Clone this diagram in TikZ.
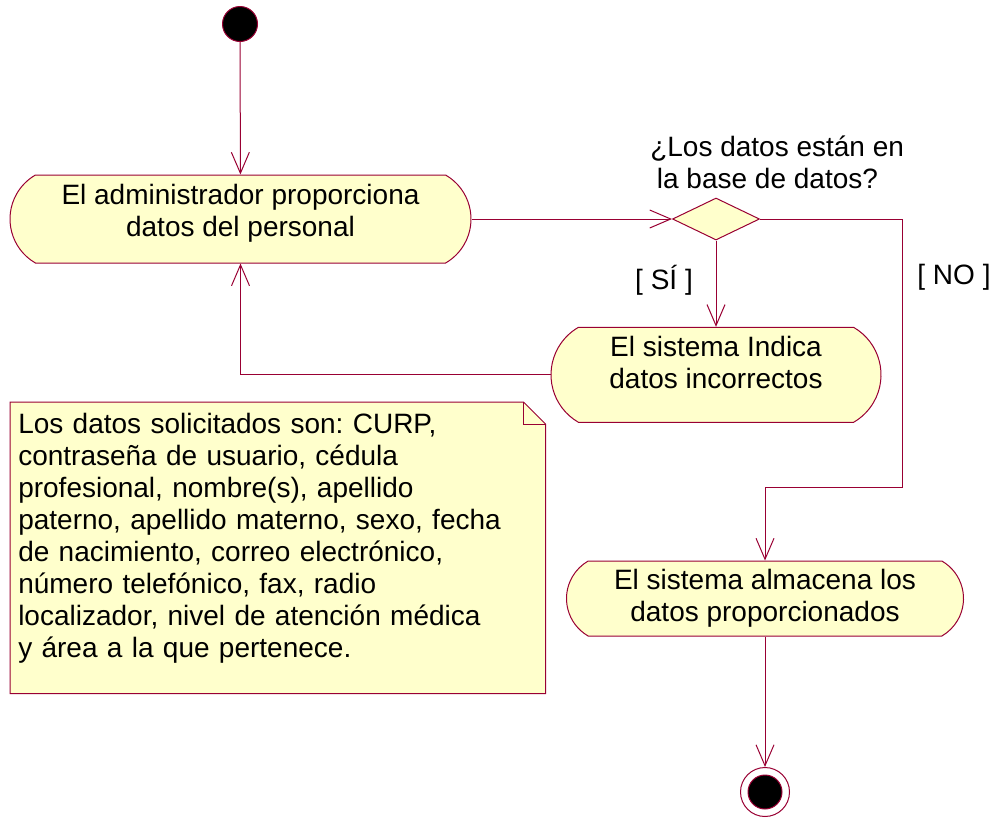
\documentclass[tikz,border=0pt]{standalone}
\usepackage{fontspec}
\setmainfont{Liberation Sans}
\usetikzlibrary{shapes.misc,shapes.geometric,arrows.meta,backgrounds}
\definecolor{rosered}{RGB}{153,0,51}
\definecolor{roseyellow}{RGB}{255,255,204}
\newcommand{\lowstrut}[1]{\rule[-#1]{0pt}{0pt}}
\frenchspacing
\begin{document}
\begin{tikzpicture}[x=0.75pt,y=-0.75pt,
  every node/.style={font=\fontsize{21pt}{24pt}\selectfont, text=black},
  outline/.style={draw=rosered, line width=0.75pt},
  activity/.style={outline, rounded rectangle, rounded rectangle arc length=120,
    fill=roseyellow, align=center, inner sep=0pt},
  decision/.style={outline, diamond, fill=roseyellow, inner sep=0pt,
    minimum width=65.25pt, minimum height=31.5pt},
  startst/.style={outline, circle, fill=black, inner sep=0pt, minimum size=26.25pt},
  endst/.style={outline, circle, fill=white, inner sep=0pt, minimum size=36.75pt,
    path picture={\filldraw[fill=black, draw=rosered, line width=0.75pt]
      (path picture bounding box.center) circle (12.75pt);}},
  notest/.style={anchor=north west, align=left, inner xsep=6pt, inner ysep=0pt,
    minimum width=401.25pt, minimum height=218.25pt, text width=389.25pt},
  guard/.style={inner sep=0pt},
  flow/.style={outline, -{Straight Barb[length=15.75pt,width=13.5pt]}}
]
\useasboundingbox (0,0) rectangle (995,819);

% nodes
\node[startst] (start) at (240,24) {};
\node[activity, minimum width=345.75pt, minimum height=66pt] (a1) at (240.5,219)
  {El administrador proporciona\\datos del personal\lowstrut{12.75pt}};
\node[decision] (d) at (716,219) {};
\node[anchor=west, align=left, inner sep=0pt] (q) at (650,162.5)
  {¿Los datos están en\\\hspace*{5pt}la base de datos?};
\node[activity, minimum width=247.5pt, minimum height=71.25pt] (a2) at (716,374.8)
  {El sistema Indica\\datos incorrectos\lowstrut{19.2pt}};
\node[activity, minimum width=297.75pt, minimum height=56.25pt] (a3) at (765,598.5)
  {El sistema almacena los\\datos proporcionados};
\node[endst] (end) at (765,792) {};
\node[guard] (si) at (664,280) {[ SÍ ]};
\node[guard] (no) at (954,277) {[ NO ]};

\node[notest] (note) at (10,402)
  {Los datos solicitados son: CURP,\\
   contraseña de usuario, cédula\\
   profesional, nombre(s), apellido\\
   paterno, apellido materno, sexo, fecha\\
   de nacimiento, correo electrónico,\\
   número telefónico, fax, radio\\
   localizador, nivel de atención médica\\
   y área a la que pertenece.\lowstrut{18.75pt}};
\begin{pgfonlayer}{background}
  \filldraw[outline, fill=roseyellow] (note.north west)
    -- ([xshift=-16.5pt]note.north east) -- ([yshift=-16.5pt]note.north east)
    -- (note.south east) -- (note.south west) -- cycle;
\end{pgfonlayer}
\draw[outline] ([xshift=-16.5pt]note.north east) |- ([yshift=-16.5pt]note.north east);

% connectors
\coordinate (nocorner) at (902,487);
\draw[flow] (start) -- (a1);
\draw[flow] (a1.east) -- (d.west);
\draw[flow] (d.south) -- (a2.north);
\draw[flow] (a2.west) -| (a1.south);
\draw[flow] (d.east) -| (nocorner) -| (a3.north);
\draw[flow] (a3.south) -- (end);
\end{tikzpicture}
\end{document}
